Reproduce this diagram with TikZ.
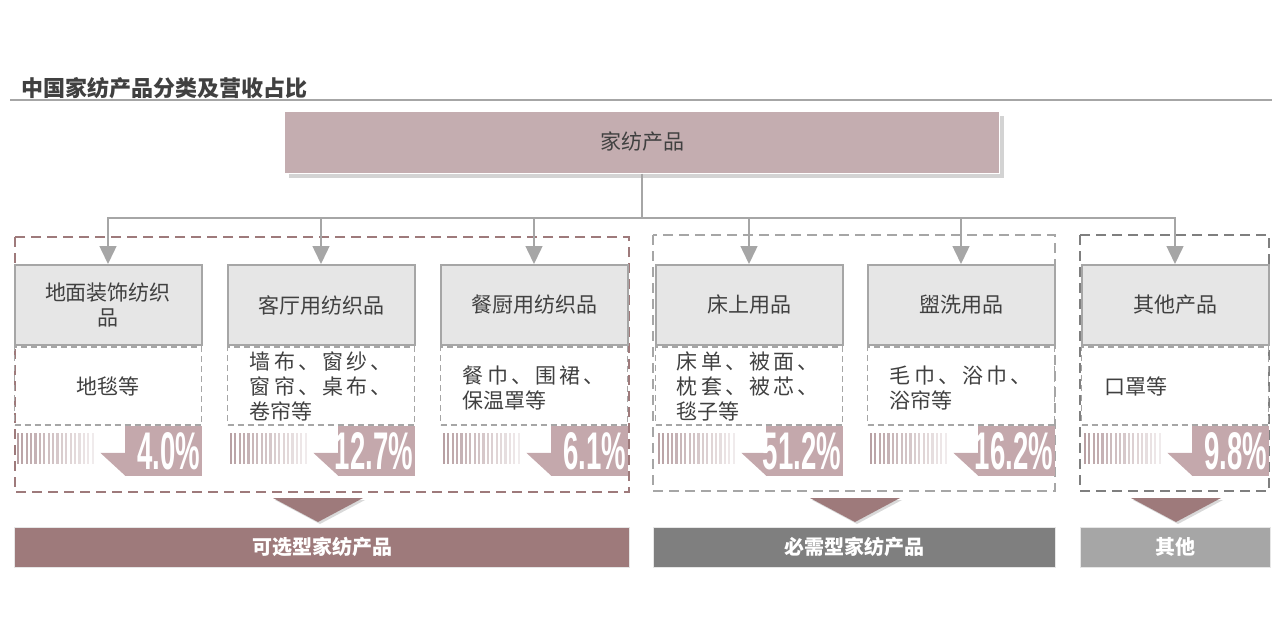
\documentclass[tikz,border=0pt]{standalone}
\usepackage{fontspec}
\newfontfamily\cjk{Noto Sans CJK SC}
\newfontfamily\pctfont{Liberation Sans}
\usetikzlibrary{arrows.meta, shadows, calc}
\definecolor{myrose}{RGB}{196,173,176}
\definecolor{mymauve}{RGB}{158,122,123}
\definecolor{mycallout}{RGB}{196,168,172}
\definecolor{mystripe}{RGB}{184,160,163}
\definecolor{mylight}{RGB}{230,230,230}
\definecolor{mymid}{RGB}{166,166,166}
\definecolor{mydark}{RGB}{127,127,127}
\definecolor{mytext}{RGB}{64,64,64}

% spread the characters of one line over a fixed width
\newcommand\spreadline[1]{\makebox[142pt][s]{\spreadchars#1\relax}}
\def\spreadchars#1#2{#1\ifx\relax#2\else\hfill\expandafter\spreadchars\expandafter#2\fi}

\begin{document}
\begin{tikzpicture}[x=1pt, y=-1pt,
  titletext/.style={anchor=west, inner sep=0pt, text=mytext, font=\cjk\bfseries\fontsize{22}{22}\selectfont},
  topbox/.style={fill=myrose, draw=white, line width=1pt, minimum width=715pt, minimum height=62pt, inner sep=0pt,
    text=mytext, font=\cjk\fontsize{21}{21}\selectfont,
    drop shadow={shadow xshift=4pt, shadow yshift=-5pt, opacity=0.35}},
  catbox/.style={draw=mymid, line width=2pt, fill=mylight, minimum width=187pt, minimum height=80pt,
    inner sep=0pt, align=center, text=mytext, font=\cjk\fontsize{21}{25}\selectfont},
  detailbox/.style={draw=mymid, line width=1.5pt, dash pattern=on 6pt off 4pt, minimum width=187pt, minimum height=78pt, inner sep=0pt},
  itemtext/.style={inner sep=0pt, text=mytext, font=\cjk\fontsize{21}{25}\selectfont},
  groupbox/.style={line width=2pt, dash pattern=on 10pt off 6pt},
  pct/.style={anchor=east, inner sep=0pt, text=white, font=\pctfont\bfseries\fontsize{53}{53}\selectfont},
  bar/.style={draw=mylight, line width=1pt, minimum height=40pt, inner sep=0pt, text=white,
    font=\cjk\bfseries\fontsize{20}{20}\selectfont},
  flow/.style={draw=mymid, line width=1.5pt, -{Triangle[width=17pt,length=18pt]}},
  flowline/.style={draw=mymid, line width=1.5pt}
]
\useasboundingbox (0,0) rectangle (1280,640);

% title
\node[titletext] (title) at (21,88) {中国家纺产品分类及营收占比};
\draw[mymid, line width=1.2pt] (10,100) -- (1272,100);

% root
\node[topbox] (top) at (642,142) {家纺产品};

% group frames
\draw[groupbox, draw=mymauve] (15,237) rectangle (629,492);
\draw[groupbox, draw=mymid] (653,235) rectangle (1055,491);
\draw[groupbox, draw=mydark] (1080,235) rectangle (1269,491);

% columns
\foreach \n/\x/\lbl/\pct in {1/108/{地面装饰纺织\\品}/4.0, 2/321/客厅用纺织品/12.7, 3/534/餐厨用纺织品/6.1,
    4/749/床上用品/51.2, 5/961/盥洗用品/16.2, 6/1175/其他产品/9.8}{
  \node[catbox] (c\n) at (\x,305) {\lbl};
  \node[detailbox] (d\n) at (\x,386) {};
  \foreach \k in {0,...,17}{
    \pgfmathtruncatemacro\s{100-\k*4.6}
    \fill[mystripe!\s!white] ($(d\n.south west)+(3+\k*4.4,7)$) rectangle ++(2.2,31);
  }
  \fill[mycallout] ($(d\n.south east)+(-77,0)$) rectangle ($(d\n.south east)+(0,50)$);
  \fill[mycallout] ($(d\n.south east)+(-77,27)$) -- ++(-25,0) -- ++(25,23) -- cycle;
  \node[pct] (p\n) at ($(d\n.south east)+(-2,25)$) {\scalebox{0.52}[1]{\pct\%}};
}

% connectors
\coordinate (bus) at (642,218);
\draw[flowline] (top.south) -- (bus);
\foreach \n in {1,...,6}
  \draw[flow] (bus) -| (c\n.north);

% items
\node[itemtext] (t1) at (d1) {地毯等};
\node[itemtext, text width=142pt, align=left, anchor=west] (t2) at ($(d2.west)+(23,0)$)
  {\spreadline{墙布、窗纱、}\\\spreadline{窗帘、桌布、}\\卷帘等};
\node[itemtext, text width=142pt, align=left, anchor=west] (t3) at ($(d3.west)+(23,2)$)
  {\spreadline{餐巾、围裙、}\\保温罩等};
\node[itemtext, text width=142pt, align=left, anchor=west] (t4) at ($(d4.west)+(22,0)$)
  {\spreadline{床单、被面、}\\\spreadline{枕套、被芯、}\\毯子等};
\node[itemtext, text width=142pt, align=left, anchor=west] (t5) at ($(d5.west)+(23,2)$)
  {\spreadline{毛巾、浴巾、}\\浴帘等};
\node[itemtext, anchor=west] (t6) at ($(d6.west)+(24,0)$) {口罩等};

% down triangles
\foreach \tx in {318, 855, 1176}
  \fill[mymauve, drop shadow={shadow xshift=2pt, shadow yshift=-2pt, opacity=0.3}]
    (\tx-45,498) -- (\tx+45,498) -- (\tx,522) -- cycle;

% bottom bars
\node[bar, fill=mymauve, minimum width=615pt] (b1) at (322,547) {可选型家纺产品};
\node[bar, fill=mydark, minimum width=402pt] (b2) at (854,547) {必需型家纺产品};
\node[bar, fill=mymid, minimum width=190pt] (b3) at (1175,547) {其他};
\end{tikzpicture}
\end{document}
